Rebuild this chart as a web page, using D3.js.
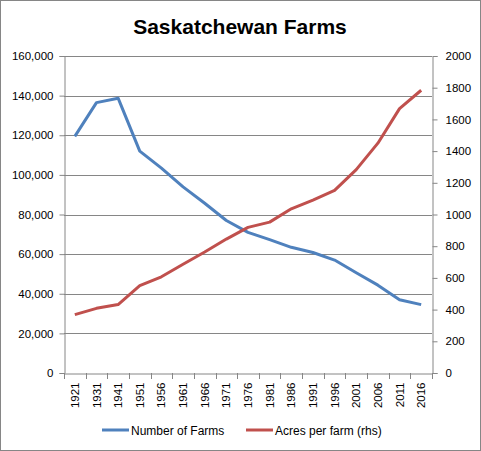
<!DOCTYPE html>
<html><head><meta charset="utf-8">
<script src="https://cdn.jsdelivr.net/npm/d3@7"></script>
<style>
html,body{margin:0;padding:0;background:#fff;}
svg{display:block;}
text{font-family:"Liberation Sans",Arial,sans-serif;}
</style></head>
<body>
<script>
const years = ["1921","1931","1941","1951","1956","1961","1966","1971","1976","1981","1986","1991","1996","2001","2006","2011","2016"];
const farms = [119451,136472,138713,112018,103391,93924,85686,76970,70958,67318,63431,60840,56995,50598,44329,36952,34523];
const acres = [368,408,432,551,607,686,763,845,919,952,1036,1091,1152,1283,1450,1668,1784];
const leftTicks = [0,20000,40000,60000,80000,100000,120000,140000,160000];
const rightTicks = [0,200,400,600,800,1000,1200,1400,1600,1800,2000];

const W=481,H=451;
const L=64,R=432,T=56,B=373;
const svg=d3.select("body").append("svg").attr("width",W).attr("height",H);
svg.append("rect").attr("x",0.5).attr("y",0.5).attr("width",W-1).attr("height",H-1)
  .attr("fill","#fff").attr("stroke","#868686");

const x=d3.scaleBand().domain(years).range([L,R]);
const yL=d3.scaleLinear().domain([0,160000]).range([B,T]);
const yR=d3.scaleLinear().domain([0,2000]).range([B,T]);

svg.append("g").selectAll("line").data(leftTicks.slice(1)).join("line")
  .attr("x1",L).attr("x2",R).attr("y1",d=>Math.round(yL(d))+0.5).attr("y2",d=>Math.round(yL(d))+0.5)
  .attr("stroke","#868686").attr("stroke-width",1);

const fmt=d3.format(",");
const gl=svg.append("g").attr("transform",`translate(${L+0.5},0)`)
  .call(d3.axisLeft(yL).tickValues(leftTicks).tickFormat(fmt).tickSize(5).tickPadding(6));
const gr=svg.append("g").attr("transform",`translate(${R+0.5},0)`)
  .call(d3.axisRight(yR).tickValues(rightTicks).tickFormat(d3.format("d")).tickSize(5).tickPadding(8));
const gb=svg.append("g").attr("transform",`translate(0,${B+0.5})`)
  .call(d3.axisBottom(x).tickSize(0).tickPadding(0));
svg.append("g").selectAll("line").data(d3.range(years.length+1)).join("line")
  .attr("x1",i=>Math.round(L+i*x.step())+0.5).attr("x2",i=>Math.round(L+i*x.step())+0.5)
  .attr("y1",B).attr("y2",B+6).attr("stroke","#868686");

[gl,gr,gb].forEach(g=>{
  g.selectAll(".domain").attr("stroke","#868686");
  g.selectAll(".tick line").attr("stroke","#868686");
  g.selectAll("text").attr("font-size",11.5).attr("fill","#000")
    .attr("font-family","'Liberation Sans',Arial,sans-serif");
});
gb.selectAll("text").attr("transform","rotate(-90)").attr("text-anchor","end")
  .attr("x",-9).attr("y",0).attr("dy","0.35em");

const line=(ys,y)=>d3.line().x((d,i)=>x(years[i])+x.bandwidth()/2).y(d=>y(d))(ys);
svg.append("path").attr("d",line(farms,yL)).attr("fill","none").attr("stroke","#4F81BD")
  .attr("stroke-width",3).attr("stroke-linejoin","round");
svg.append("path").attr("d",line(acres,yR)).attr("fill","none").attr("stroke","#C0504D")
  .attr("stroke-width",3).attr("stroke-linejoin","round");

svg.append("text").attr("x",240).attr("y",34).attr("text-anchor","middle")
  .attr("font-size",21).attr("font-weight","bold").text("Saskatchewan Farms");

const leg=[{n:"Number of Farms",c:"#4F81BD",x:102},{n:"Acres per farm (rhs)",c:"#C0504D",x:246}];
leg.forEach(l=>{
  svg.append("line").attr("x1",l.x).attr("x2",l.x+27).attr("y1",430).attr("y2",430)
    .attr("stroke",l.c).attr("stroke-width",3);
  svg.append("text").attr("x",l.x+29).attr("y",434.5).attr("font-size",12).text(l.n);
});
</script>
</body></html>
